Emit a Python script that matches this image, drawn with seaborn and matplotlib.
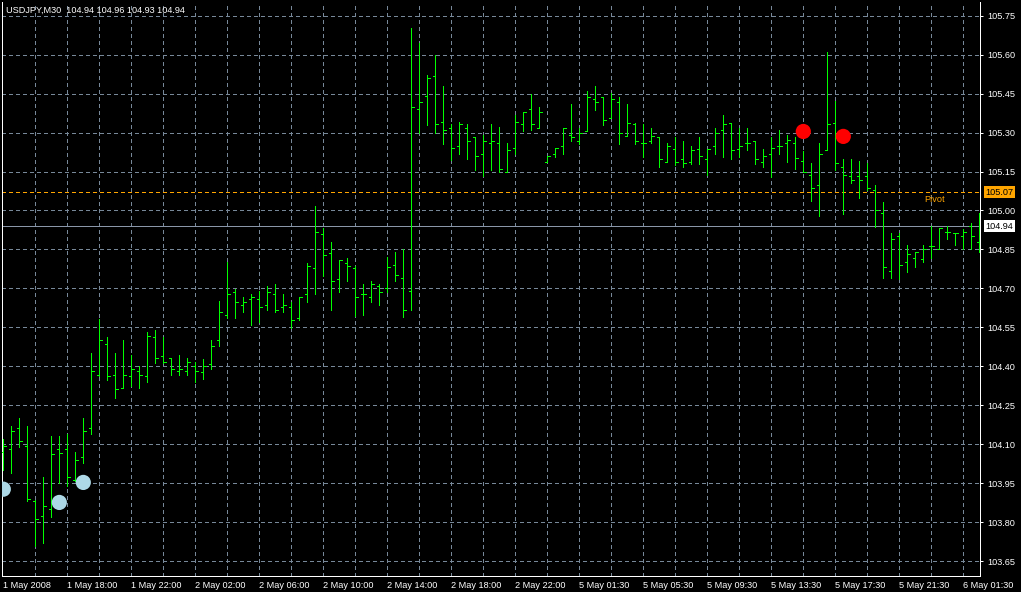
import matplotlib
matplotlib.use("Agg")
import matplotlib.pyplot as plt
import numpy as np
import pandas as pd
import seaborn as sns

# USDJPY M30, 1 May 2008 - 6 May 2008
title = "USDJPY,M30  104.94 104.96 104.93 104.94"

opens = [104.070, 104.081, 104.162, 104.094, 103.881, 103.823, 103.850, 104.081, 104.081, 103.962,
         104.050, 104.162, 104.369, 104.488, 104.369, 104.319, 104.362, 104.381, 104.362, 104.512,
         104.442, 104.431, 104.381, 104.381, 104.400, 104.380, 104.410, 104.500, 104.599, 104.687,
         104.637, 104.660, 104.660, 104.637, 104.679, 104.629, 104.629, 104.587, 104.679, 104.779,
         104.910, 104.837, 104.737, 104.799, 104.779, 104.679, 104.668, 104.710, 104.700, 104.789,
         104.739, 104.689, 105.389, 105.439, 105.519, 105.339, 105.319, 105.250, 105.319, 105.281,
         105.218, 105.258, 105.258, 105.150, 105.239, 105.331, 105.389, 105.319, 105.188, 105.219,
         105.250, 105.289, 105.269, 105.306, 105.427, 105.438, 105.356, 105.419, 105.288, 105.331,
         105.258, 105.269, 105.281, 105.188, 105.238, 105.200, 105.188, 105.238, 105.200, 105.250,
         105.308, 105.338, 105.238, 105.258, 105.269, 105.188, 105.219, 105.250, 105.258, 105.258,
         105.189, 105.138, 105.100, 105.231, 105.338, 105.169, 105.131, 105.131, 105.131, 105.079,
         104.989, 104.769, 104.900, 104.800, 104.819, 104.815, 104.862, 104.850, 104.919, 104.912,
         104.900, 104.939, 104.880]
highs = [104.121, 104.171, 104.201, 104.171, 103.886, 103.973, 104.132, 104.132, 104.142, 104.070,
         104.201, 104.451, 104.582, 104.513, 104.451, 104.501, 104.444, 104.400, 104.533, 104.540,
         104.512, 104.431, 104.444, 104.431, 104.419, 104.430, 104.500, 104.650, 104.803, 104.699,
         104.668, 104.679, 104.691, 104.710, 104.718, 104.679, 104.649, 104.668, 104.799, 105.018,
         104.931, 104.879, 104.810, 104.818, 104.787, 104.718, 104.729, 104.718, 104.821, 104.840,
         104.851, 105.701, 105.644, 105.521, 105.600, 105.478, 105.331, 105.339, 105.331, 105.281,
         105.292, 105.331, 105.321, 105.258, 105.369, 105.377, 105.450, 105.400, 105.209, 105.239,
         105.319, 105.408, 105.319, 105.458, 105.477, 105.438, 105.451, 105.438, 105.408, 105.338,
         105.331, 105.319, 105.281, 105.258, 105.281, 105.269, 105.250, 105.281, 105.238, 105.319,
         105.369, 105.338, 105.319, 105.319, 105.269, 105.238, 105.282, 105.309, 105.290, 105.282,
         105.227, 105.181, 105.259, 105.608, 105.420, 105.200, 105.200, 105.189, 105.181, 105.100,
         105.032, 104.912, 104.912, 104.869, 104.839, 104.869, 104.939, 104.931, 104.939, 104.912,
         104.927, 104.950, 104.990]
lows = [104.000, 103.991, 104.091, 103.881, 103.710, 103.722, 103.822, 103.950, 103.941, 103.960,
        104.030, 104.141, 104.364, 104.349, 104.280, 104.318, 104.323, 104.318, 104.341, 104.415,
        104.412, 104.368, 104.368, 104.368, 104.341, 104.350, 104.390, 104.480, 104.585, 104.585,
        104.609, 104.559, 104.572, 104.617, 104.609, 104.609, 104.549, 104.579, 104.649, 104.679,
        104.749, 104.618, 104.687, 104.729, 104.595, 104.599, 104.649, 104.637, 104.687, 104.730,
        104.589, 104.619, 105.300, 105.330, 105.300, 105.257, 105.196, 105.218, 105.199, 105.156,
        105.133, 105.156, 105.150, 105.150, 105.218, 105.306, 105.308, 105.319, 105.188, 105.206,
        105.218, 105.268, 105.255, 105.306, 105.387, 105.329, 105.356, 105.256, 105.288, 105.256,
        105.206, 105.258, 105.168, 105.188, 105.176, 105.168, 105.179, 105.179, 105.136, 105.219,
        105.206, 105.200, 105.206, 105.231, 105.179, 105.168, 105.127, 105.219, 105.187, 105.158,
        105.150, 105.037, 104.980, 105.231, 105.154, 104.987, 105.106, 105.049, 105.079, 104.938,
        104.739, 104.742, 104.735, 104.762, 104.781, 104.800, 104.819, 104.850, 104.889, 104.869,
        104.850, 104.850, 104.840]
closes = [104.094, 104.150, 104.112, 103.892, 103.812, 103.862, 104.062, 104.069, 103.973, 104.042,
          104.150, 104.381, 104.500, 104.362, 104.312, 104.369, 104.392, 104.369, 104.518, 104.431,
          104.419, 104.392, 104.392, 104.419, 104.381, 104.400, 104.480, 104.610, 104.679, 104.649,
          104.649, 104.668, 104.629, 104.687, 104.618, 104.637, 104.579, 104.668, 104.787, 104.918,
          104.830, 104.729, 104.810, 104.787, 104.668, 104.679, 104.718, 104.687, 104.781, 104.750,
          104.619, 105.400, 105.419, 105.508, 105.331, 105.308, 105.239, 105.331, 105.269, 105.208,
          105.269, 105.269, 105.158, 105.231, 105.339, 105.377, 105.331, 105.377, 105.209, 105.239,
          105.319, 105.281, 105.300, 105.438, 105.419, 105.350, 105.427, 105.300, 105.338, 105.269,
          105.258, 105.288, 105.200, 105.250, 105.188, 105.181, 105.231, 105.208, 105.238, 105.300,
          105.331, 105.231, 105.250, 105.258, 105.200, 105.208, 105.240, 105.250, 105.271, 105.201,
          105.150, 105.088, 105.219, 105.331, 105.181, 105.138, 105.119, 105.119, 105.088, 105.000,
          104.781, 104.889, 104.789, 104.831, 104.839, 104.850, 104.862, 104.931, 104.919, 104.912,
          104.919, 104.900, 104.940]

x_tick_bars = [0, 8, 16, 24, 32, 40, 48, 56, 64, 72, 80, 88, 96, 104, 112, 120]
x_tick_labels = ["1 May 2008", "1 May 18:00", "1 May 22:00", "2 May 02:00", "2 May 06:00",
                 "2 May 10:00", "2 May 14:00", "2 May 18:00", "2 May 22:00", "5 May 01:30",
                 "5 May 05:30", "5 May 09:30", "5 May 13:30", "5 May 17:30", "5 May 21:30",
                 "6 May 01:30"]
price_ticks = [103.65, 103.80, 103.95, 104.10, 104.25, 104.40, 104.55, 104.70,
               104.85, 105.00, 105.15, 105.30, 105.45, 105.60, 105.75]

buy_bars = [0, 7, 10]
buy_prices = [103.928, 103.877, 103.954]
sell_bars = [100, 105]
sell_prices = [105.304, 105.285]

pivot = 105.07
bid = 104.94

sns.set_theme(style="dark", rc={"axes.facecolor": "black", "figure.facecolor": "black"})
plt.rcParams["font.family"] = ["Liberation Sans", "DejaVu Sans"]

px = 0.72  # one pixel in points
green = "#00ff00"
grid_col = "#778899"

fig = plt.figure(figsize=(10.21, 5.92), dpi=100)
ax = fig.add_axes([2 / 1021, 16.5 / 592, 978.3 / 1021, 573.5 / 592])
ax.set_facecolor("black")

bars = pd.DataFrame({"bar": np.arange(len(opens)), "open": opens, "high": highs,
                     "low": lows, "close": closes})

# grid
for b in range(4, len(opens), 4):
    ax.axvline(b, color=grid_col, lw=px, ls=(0, (3, 3)), zorder=0, antialiased=False)
for p in price_ticks:
    ax.axhline(p, color=grid_col, lw=px, ls=(0, (3, 3)), zorder=0, antialiased=False)

# pivot and bid lines
ax.axhline(pivot, color="#ffa500", lw=px, ls=(0, (3, 3)), zorder=1, antialiased=False)
ax.axhline(bid, color="#8a96a8", lw=px, zorder=1, antialiased=False)
ax.text(115.1, pivot - 0.01, "Pivot", color="#ffa500", fontsize=6.6, va="top", ha="left")

# OHLC bars
ax.vlines(bars["bar"], bars["low"], bars["high"], color=green, lw=px, zorder=3, antialiased=False)
ax.hlines(bars["open"], bars["bar"] - 0.3, bars["bar"], color=green, lw=px, zorder=3, antialiased=False)
ax.hlines(bars["close"], bars["bar"], bars["bar"] + 0.3, color=green, lw=px, zorder=3, antialiased=False)

# signal dots
sns.scatterplot(x=buy_bars, y=buy_prices, color="#add8e6", s=120, edgecolor="none",
                ax=ax, legend=False, zorder=4, clip_on=True)
sns.scatterplot(x=sell_bars, y=sell_prices, color="#ff0000", s=120, edgecolor="none",
                ax=ax, legend=False, zorder=4)

ax.set_xlim(-0.1625, 122.125)
ax.set_ylim(103.596, 105.802)

ax.yaxis.tick_right()
ax.set_yticks(price_ticks)
ax.set_yticklabels([f"{p:.2f}" for p in price_ticks])
ax.set_xticks(x_tick_bars)
ax.set_xticklabels(x_tick_labels, ha="left")
ax.tick_params(axis="y", colors="white", length=2, width=px, pad=3, labelsize=6.6, direction="out")
ax.tick_params(axis="x", colors="white", length=2.2, width=px, pad=2, labelsize=6.6, direction="out")
for lab in ax.get_xticklabels():
    lab.set_x(lab.get_position()[0])
ax.set_xlabel("")
ax.set_ylabel("")
ax.grid(False)

for side in ["left", "right", "bottom"]:
    ax.spines[side].set_visible(True)
    ax.spines[side].set_color("white")
    ax.spines[side].set_linewidth(px)
ax.spines["top"].set_visible(False)

# price boxes on the right scale
ytr = ax.get_yaxis_transform()
ax.text(1.0055, pivot, f"{pivot:.2f}", transform=ytr, fontsize=6.6, color="black",
        va="center", ha="left", bbox=dict(boxstyle="square,pad=0.18", fc="#ffa500", ec="none"))
ax.text(1.0055, bid, f"{bid:.2f}", transform=ytr, fontsize=6.6, color="black",
        va="center", ha="left", bbox=dict(boxstyle="square,pad=0.18", fc="white", ec="none"))

fig.text(6 / 1021, 1 - 10.3 / 592, title, color="white", fontsize=6.6, va="center", ha="left")

fig.savefig("out.png", dpi=100, facecolor="black")
